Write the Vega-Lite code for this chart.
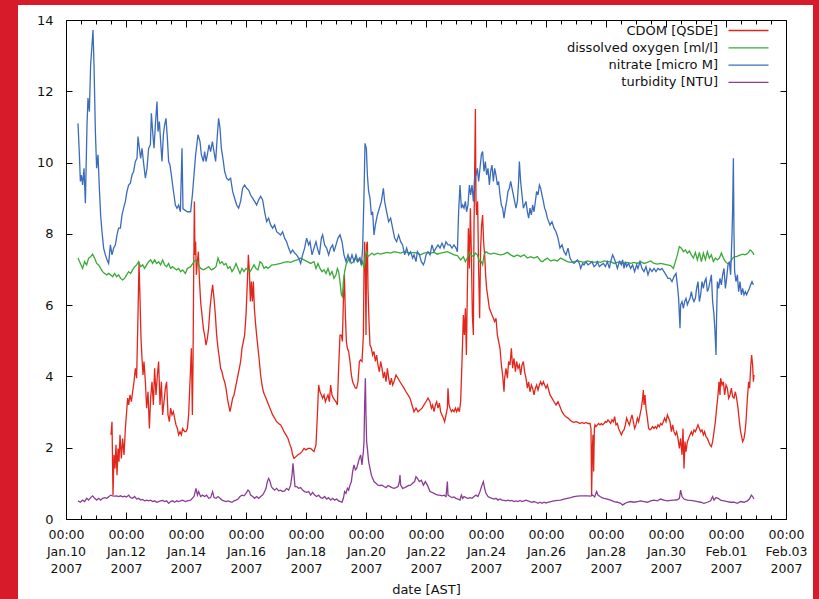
{
"$schema": "https://vega.github.io/schema/vega-lite/v6.json",
"background": "white",
"padding": 0,
"config": {"view": {"stroke": null}, "font": "DejaVu Sans", "line": {"strokeWidth": 1.3}},
"datasets": {
"nitrate": [
{"h":9.6,"v":11.10},{"h":10.7,"v":10.22},{"h":11.5,"v":9.47},{"h":12.3,"v":9.65},{"h":13.3,"v":9.37},{"h":14.4,"v":9.84},{"h":15.5,"v":8.86},{"h":16.8,"v":11.06},{"h":17.6,"v":11.81},{"h":18.7,"v":11.43},{"h":19.7,"v":12.74},{"h":20.8,"v":13.30},{"h":21.6,"v":13.72},{"h":22.4,"v":12.74},{"h":23.5,"v":10.87},{"h":24.5,"v":9.84},{"h":25.6,"v":10.22},{"h":26.7,"v":9.28},{"h":27.7,"v":8.53},{"h":28.8,"v":8.06},{"h":30.1,"v":7.60},{"h":31.5,"v":7.41},{"h":32.8,"v":7.27},{"h":34.1,"v":7.17},{"h":35.5,"v":7.69},{"h":36.8,"v":7.41},{"h":38.1,"v":7.60},{"h":39.5,"v":7.69},{"h":40.8,"v":7.97},{"h":42.1,"v":8.16},{"h":43.5,"v":8.16},{"h":44.8,"v":8.53},{"h":46.1,"v":8.72},{"h":47.5,"v":8.91},{"h":48.8,"v":9.19},{"h":50.1,"v":9.37},{"h":51.5,"v":9.42},{"h":52.8,"v":9.65},{"h":54.1,"v":9.75},{"h":55.5,"v":10.03},{"h":56.8,"v":10.12},{"h":57.6,"v":10.73},{"h":58.7,"v":10.40},{"h":59.7,"v":10.12},{"h":60.8,"v":10.40},{"h":62.1,"v":9.98},{"h":63.5,"v":9.56},{"h":64.8,"v":9.84},{"h":66.1,"v":10.40},{"h":67.5,"v":10.50},{"h":68.3,"v":11.38},{"h":69.3,"v":10.87},{"h":70.4,"v":10.40},{"h":71.5,"v":11.06},{"h":72.8,"v":11.71},{"h":73.6,"v":10.87},{"h":74.7,"v":11.15},{"h":75.7,"v":10.59},{"h":76.8,"v":10.03},{"h":77.9,"v":10.78},{"h":78.9,"v":11.06},{"h":80.0,"v":11.24},{"h":81.1,"v":10.68},{"h":82.1,"v":10.03},{"h":83.2,"v":9.93},{"h":84.3,"v":9.65},{"h":85.3,"v":9.37},{"h":86.4,"v":9.09},{"h":87.5,"v":8.81},{"h":88.8,"v":8.72},{"h":90.1,"v":8.81},{"h":91.5,"v":8.62},{"h":92.8,"v":10.40},{"h":93.6,"v":8.70},{"h":97.1,"v":8.62},{"h":99.7,"v":8.62},{"h":101.1,"v":9.09},{"h":103.7,"v":10.22},{"h":105.6,"v":10.78},{"h":107.2,"v":10.59},{"h":108.3,"v":10.22},{"h":109.9,"v":10.03},{"h":110.9,"v":10.31},{"h":112.0,"v":10.03},{"h":113.1,"v":10.22},{"h":114.4,"v":10.50},{"h":115.7,"v":10.31},{"h":117.1,"v":10.59},{"h":118.4,"v":10.31},{"h":119.7,"v":10.03},{"h":121.1,"v":10.78},{"h":122.1,"v":11.24},{"h":123.2,"v":10.96},{"h":124.3,"v":10.40},{"h":125.9,"v":10.03},{"h":126.9,"v":9.75},{"h":128.5,"v":9.56},{"h":130.1,"v":9.51},{"h":131.7,"v":9.56},{"h":133.3,"v":9.19},{"h":134.9,"v":9.00},{"h":136.5,"v":8.81},{"h":138.1,"v":8.72},{"h":139.7,"v":8.91},{"h":141.3,"v":9.28},{"h":142.9,"v":9.37},{"h":144.5,"v":9.28},{"h":146.1,"v":9.23},{"h":147.7,"v":9.09},{"h":149.3,"v":9.00},{"h":150.9,"v":8.91},{"h":152.5,"v":8.81},{"h":154.1,"v":8.95},{"h":155.7,"v":9.05},{"h":157.3,"v":8.95},{"h":158.9,"v":8.62},{"h":160.5,"v":8.34},{"h":162.1,"v":8.44},{"h":163.7,"v":8.25},{"h":165.3,"v":8.16},{"h":166.9,"v":8.25},{"h":168.5,"v":8.06},{"h":170.1,"v":8.02},{"h":171.7,"v":7.97},{"h":173.3,"v":8.06},{"h":174.9,"v":7.88},{"h":176.5,"v":7.78},{"h":178.1,"v":7.60},{"h":179.7,"v":7.46},{"h":181.3,"v":7.55},{"h":182.9,"v":7.46},{"h":184.5,"v":7.41},{"h":186.1,"v":7.32},{"h":187.7,"v":7.17},{"h":189.3,"v":7.41},{"h":190.9,"v":7.60},{"h":192.5,"v":7.88},{"h":194.1,"v":7.69},{"h":195.2,"v":7.78},{"h":196.8,"v":7.41},{"h":198.4,"v":7.60},{"h":200.0,"v":7.78},{"h":201.1,"v":7.60},{"h":202.7,"v":7.41},{"h":204.3,"v":7.88},{"h":205.3,"v":7.97},{"h":206.9,"v":7.69},{"h":208.5,"v":7.60},{"h":210.1,"v":7.41},{"h":211.7,"v":7.60},{"h":213.3,"v":7.69},{"h":214.4,"v":7.50},{"h":216.0,"v":7.69},{"h":217.6,"v":7.88},{"h":219.2,"v":7.97},{"h":220.8,"v":7.78},{"h":222.4,"v":7.41},{"h":224.0,"v":7.22},{"h":225.6,"v":7.41},{"h":227.2,"v":7.22},{"h":228.8,"v":7.41},{"h":230.4,"v":7.22},{"h":232.0,"v":7.41},{"h":233.6,"v":7.22},{"h":235.2,"v":7.32},{"h":236.3,"v":7.13},{"h":237.3,"v":7.60},{"h":238.4,"v":9.09},{"h":239.2,"v":10.54},{"h":240.3,"v":10.40},{"h":241.1,"v":9.65},{"h":242.1,"v":9.19},{"h":243.2,"v":9.00},{"h":244.3,"v":8.53},{"h":245.3,"v":8.62},{"h":246.4,"v":7.97},{"h":247.5,"v":8.25},{"h":249.1,"v":8.53},{"h":250.7,"v":8.72},{"h":252.3,"v":8.91},{"h":253.9,"v":9.28},{"h":254.9,"v":8.91},{"h":256.5,"v":8.62},{"h":258.1,"v":8.34},{"h":259.7,"v":8.44},{"h":261.3,"v":8.16},{"h":262.9,"v":7.88},{"h":264.5,"v":7.78},{"h":266.1,"v":7.97},{"h":267.7,"v":7.78},{"h":269.3,"v":7.69},{"h":270.9,"v":7.41},{"h":272.5,"v":7.60},{"h":274.1,"v":7.41},{"h":275.7,"v":7.50},{"h":277.3,"v":7.32},{"h":278.4,"v":7.41},{"h":280.0,"v":7.22},{"h":281.1,"v":7.50},{"h":282.7,"v":7.41},{"h":284.3,"v":7.22},{"h":285.9,"v":7.13},{"h":286.9,"v":7.22},{"h":288.0,"v":7.41},{"h":289.6,"v":7.50},{"h":291.2,"v":7.41},{"h":292.8,"v":7.69},{"h":294.4,"v":7.50},{"h":296.0,"v":7.60},{"h":297.6,"v":7.69},{"h":299.2,"v":7.60},{"h":300.8,"v":7.74},{"h":302.4,"v":7.60},{"h":304.0,"v":7.78},{"h":305.6,"v":7.69},{"h":307.2,"v":7.69},{"h":308.8,"v":7.60},{"h":310.4,"v":7.69},{"h":312.0,"v":7.60},{"h":313.1,"v":7.50},{"h":314.1,"v":8.62},{"h":315.2,"v":9.37},{"h":316.3,"v":8.72},{"h":317.3,"v":8.81},{"h":318.4,"v":8.72},{"h":319.5,"v":8.91},{"h":320.5,"v":8.62},{"h":321.6,"v":8.81},{"h":322.7,"v":9.37},{"h":323.7,"v":9.09},{"h":324.8,"v":9.37},{"h":325.9,"v":8.91},{"h":326.9,"v":9.56},{"h":328.0,"v":9.65},{"h":329.1,"v":9.84},{"h":330.1,"v":9.47},{"h":331.2,"v":9.84},{"h":332.3,"v":10.22},{"h":333.3,"v":10.31},{"h":334.4,"v":9.75},{"h":335.5,"v":10.03},{"h":336.5,"v":9.65},{"h":337.6,"v":9.84},{"h":338.7,"v":9.37},{"h":339.7,"v":9.75},{"h":340.8,"v":9.93},{"h":341.9,"v":9.47},{"h":342.9,"v":9.84},{"h":344.0,"v":9.65},{"h":345.1,"v":9.37},{"h":346.1,"v":9.47},{"h":347.2,"v":9.09},{"h":348.3,"v":8.81},{"h":349.3,"v":8.72},{"h":350.4,"v":8.44},{"h":351.5,"v":8.72},{"h":352.5,"v":8.91},{"h":353.6,"v":9.19},{"h":354.7,"v":9.28},{"h":355.7,"v":9.47},{"h":356.8,"v":9.28},{"h":357.9,"v":9.09},{"h":358.9,"v":8.91},{"h":360.0,"v":8.72},{"h":361.1,"v":8.91},{"h":362.1,"v":9.47},{"h":362.7,"v":10.03},{"h":363.7,"v":9.47},{"h":364.8,"v":9.09},{"h":365.9,"v":8.72},{"h":366.9,"v":8.81},{"h":368.0,"v":8.91},{"h":369.1,"v":8.62},{"h":370.1,"v":8.44},{"h":371.2,"v":8.72},{"h":372.3,"v":8.53},{"h":373.3,"v":8.81},{"h":374.4,"v":8.62},{"h":375.5,"v":8.91},{"h":376.5,"v":9.19},{"h":377.6,"v":9.09},{"h":378.7,"v":9.37},{"h":379.7,"v":9.28},{"h":380.8,"v":9.09},{"h":381.9,"v":8.91},{"h":382.9,"v":8.72},{"h":384.0,"v":8.62},{"h":385.1,"v":8.44},{"h":387.2,"v":8.25},{"h":388.8,"v":8.34},{"h":390.4,"v":8.16},{"h":392.0,"v":8.06},{"h":393.6,"v":7.88},{"h":395.2,"v":7.60},{"h":396.8,"v":7.69},{"h":398.4,"v":7.50},{"h":400.0,"v":7.41},{"h":401.6,"v":7.60},{"h":403.2,"v":7.32},{"h":404.8,"v":7.22},{"h":406.4,"v":7.17},{"h":408.0,"v":7.22},{"h":409.1,"v":7.27},{"h":410.7,"v":7.17},{"h":411.7,"v":7.03},{"h":413.3,"v":7.17},{"h":414.4,"v":7.13},{"h":416.0,"v":7.22},{"h":417.6,"v":7.13},{"h":419.2,"v":7.17},{"h":420.8,"v":7.22},{"h":422.4,"v":7.08},{"h":424.0,"v":7.13},{"h":425.1,"v":7.22},{"h":426.7,"v":7.08},{"h":428.3,"v":7.13},{"h":429.9,"v":7.17},{"h":431.5,"v":7.08},{"h":433.1,"v":7.22},{"h":434.7,"v":7.03},{"h":435.7,"v":7.22},{"h":437.3,"v":7.41},{"h":438.4,"v":7.32},{"h":439.5,"v":7.22},{"h":441.1,"v":7.03},{"h":442.7,"v":7.22},{"h":444.3,"v":7.13},{"h":445.3,"v":7.27},{"h":446.4,"v":7.03},{"h":447.5,"v":7.22},{"h":448.5,"v":7.08},{"h":450.1,"v":7.17},{"h":451.7,"v":7.03},{"h":453.3,"v":7.13},{"h":454.9,"v":6.94},{"h":456.5,"v":7.13},{"h":457.6,"v":7.03},{"h":459.2,"v":7.22},{"h":460.8,"v":7.03},{"h":462.4,"v":6.94},{"h":464.0,"v":7.08},{"h":465.6,"v":6.85},{"h":467.2,"v":7.03},{"h":468.8,"v":6.94},{"h":470.4,"v":7.03},{"h":472.0,"v":6.94},{"h":473.6,"v":7.03},{"h":475.2,"v":6.99},{"h":476.8,"v":7.03},{"h":478.4,"v":6.94},{"h":480.0,"v":6.85},{"h":481.6,"v":6.75},{"h":483.2,"v":6.75},{"h":484.8,"v":6.66},{"h":486.4,"v":6.80},{"h":488.0,"v":6.89},{"h":489.1,"v":6.57},{"h":490.1,"v":6.19},{"h":491.2,"v":5.35},{"h":491.7,"v":6.01},{"h":492.8,"v":6.10},{"h":493.9,"v":5.91},{"h":494.9,"v":6.10},{"h":496.0,"v":6.19},{"h":497.1,"v":6.01},{"h":498.1,"v":6.10},{"h":499.2,"v":6.19},{"h":500.3,"v":6.38},{"h":501.3,"v":6.19},{"h":502.4,"v":6.10},{"h":503.5,"v":6.19},{"h":504.5,"v":6.47},{"h":505.6,"v":6.66},{"h":506.7,"v":6.10},{"h":507.7,"v":6.29},{"h":508.8,"v":6.66},{"h":509.9,"v":6.47},{"h":510.9,"v":6.66},{"h":512.0,"v":6.75},{"h":513.1,"v":6.38},{"h":514.1,"v":6.47},{"h":515.2,"v":6.66},{"h":516.3,"v":6.85},{"h":517.3,"v":6.10},{"h":518.4,"v":5.72},{"h":519.2,"v":5.26},{"h":520.0,"v":4.60},{"h":520.5,"v":5.72},{"h":521.1,"v":6.66},{"h":522.1,"v":6.47},{"h":523.2,"v":6.75},{"h":524.3,"v":6.57},{"h":525.3,"v":6.85},{"h":526.4,"v":7.03},{"h":527.5,"v":6.47},{"h":528.5,"v":6.75},{"h":529.6,"v":7.13},{"h":530.7,"v":7.22},{"h":531.7,"v":6.85},{"h":532.8,"v":7.97},{"h":533.3,"v":8.67},{"h":533.9,"v":10.12},{"h":534.4,"v":7.97},{"h":534.9,"v":6.94},{"h":536.0,"v":6.66},{"h":537.1,"v":6.85},{"h":538.1,"v":6.38},{"h":539.2,"v":6.66},{"h":540.3,"v":6.29},{"h":541.3,"v":6.47},{"h":542.4,"v":6.29},{"h":543.5,"v":6.38},{"h":544.5,"v":6.29},{"h":545.6,"v":6.38},{"h":546.7,"v":6.47},{"h":547.7,"v":6.57},{"h":548.8,"v":6.66},{"h":549.9,"v":6.57}
],
"oxygen": [
{"h":9.6,"v":7.32},{"h":11.5,"v":7.17},{"h":13.3,"v":7.03},{"h":14.9,"v":7.22},{"h":16.5,"v":7.13},{"h":18.1,"v":7.32},{"h":19.7,"v":7.36},{"h":21.3,"v":7.43},{"h":22.9,"v":7.32},{"h":24.5,"v":7.17},{"h":26.1,"v":7.13},{"h":27.7,"v":7.03},{"h":29.3,"v":6.94},{"h":30.9,"v":6.89},{"h":32.5,"v":6.85},{"h":34.1,"v":6.89},{"h":35.7,"v":6.85},{"h":37.3,"v":6.80},{"h":38.9,"v":6.89},{"h":40.5,"v":6.80},{"h":42.1,"v":6.85},{"h":43.7,"v":6.75},{"h":45.3,"v":6.71},{"h":46.9,"v":6.75},{"h":48.5,"v":6.85},{"h":50.1,"v":6.94},{"h":51.7,"v":6.89},{"h":53.3,"v":6.99},{"h":54.9,"v":7.08},{"h":56.5,"v":7.13},{"h":58.1,"v":7.22},{"h":59.7,"v":7.08},{"h":61.3,"v":7.13},{"h":62.9,"v":7.03},{"h":64.5,"v":7.13},{"h":66.1,"v":7.22},{"h":67.7,"v":7.27},{"h":69.3,"v":7.17},{"h":70.9,"v":7.27},{"h":72.5,"v":7.17},{"h":74.1,"v":7.22},{"h":75.7,"v":7.13},{"h":77.3,"v":7.27},{"h":78.9,"v":7.13},{"h":80.5,"v":7.08},{"h":82.1,"v":7.17},{"h":83.7,"v":7.03},{"h":85.3,"v":7.08},{"h":86.9,"v":7.03},{"h":88.5,"v":6.99},{"h":90.1,"v":7.03},{"h":91.7,"v":6.94},{"h":93.3,"v":6.99},{"h":95.5,"v":6.89},{"h":97.1,"v":7.03},{"h":99.7,"v":7.08},{"h":102.4,"v":7.22},{"h":104.0,"v":7.27},{"h":105.6,"v":7.17},{"h":107.7,"v":7.03},{"h":109.9,"v":6.99},{"h":112.0,"v":7.03},{"h":114.1,"v":7.08},{"h":116.3,"v":6.99},{"h":118.4,"v":7.03},{"h":120.0,"v":7.08},{"h":121.6,"v":7.32},{"h":123.2,"v":7.17},{"h":124.8,"v":7.22},{"h":126.4,"v":7.13},{"h":128.0,"v":7.17},{"h":129.6,"v":7.03},{"h":131.2,"v":7.08},{"h":132.8,"v":6.94},{"h":134.4,"v":7.03},{"h":136.0,"v":7.17},{"h":137.6,"v":7.03},{"h":139.2,"v":6.89},{"h":140.8,"v":7.03},{"h":142.4,"v":6.94},{"h":144.0,"v":7.03},{"h":145.6,"v":6.99},{"h":147.2,"v":6.94},{"h":148.8,"v":7.03},{"h":150.4,"v":7.13},{"h":152.0,"v":7.03},{"h":153.6,"v":6.99},{"h":155.2,"v":7.22},{"h":156.8,"v":7.17},{"h":158.4,"v":7.03},{"h":160.0,"v":7.08},{"h":161.6,"v":7.03},{"h":163.2,"v":7.08},{"h":164.8,"v":7.13},{"h":166.4,"v":7.13},{"h":169.1,"v":7.15},{"h":171.7,"v":7.17},{"h":174.4,"v":7.20},{"h":177.1,"v":7.22},{"h":179.7,"v":7.20},{"h":182.4,"v":7.24},{"h":185.1,"v":7.27},{"h":187.7,"v":7.32},{"h":190.4,"v":7.27},{"h":193.1,"v":7.22},{"h":195.7,"v":7.17},{"h":198.4,"v":7.22},{"h":200.0,"v":7.03},{"h":201.6,"v":7.17},{"h":203.2,"v":7.03},{"h":204.8,"v":6.94},{"h":206.4,"v":6.99},{"h":208.0,"v":6.89},{"h":209.6,"v":7.03},{"h":211.2,"v":6.85},{"h":212.8,"v":6.94},{"h":214.4,"v":6.75},{"h":216.0,"v":6.85},{"h":217.1,"v":7.03},{"h":218.1,"v":6.94},{"h":219.2,"v":6.66},{"h":220.3,"v":6.29},{"h":221.1,"v":6.24},{"h":221.9,"v":6.66},{"h":222.9,"v":6.94},{"h":224.0,"v":7.13},{"h":225.1,"v":7.22},{"h":226.7,"v":7.32},{"h":228.3,"v":7.17},{"h":229.9,"v":7.22},{"h":231.5,"v":7.32},{"h":233.1,"v":7.22},{"h":234.7,"v":7.32},{"h":236.3,"v":7.13},{"h":237.3,"v":7.22},{"h":238.4,"v":7.03},{"h":239.5,"v":7.41},{"h":240.5,"v":7.50},{"h":241.6,"v":7.36},{"h":243.2,"v":7.41},{"h":244.8,"v":7.46},{"h":246.4,"v":7.41},{"h":249.1,"v":7.46},{"h":251.7,"v":7.43},{"h":254.4,"v":7.46},{"h":257.1,"v":7.48},{"h":259.7,"v":7.46},{"h":262.4,"v":7.50},{"h":265.1,"v":7.48},{"h":267.7,"v":7.46},{"h":270.4,"v":7.50},{"h":273.1,"v":7.48},{"h":275.7,"v":7.46},{"h":278.4,"v":7.48},{"h":281.1,"v":7.46},{"h":283.7,"v":7.41},{"h":286.4,"v":7.46},{"h":289.1,"v":7.48},{"h":291.7,"v":7.46},{"h":294.4,"v":7.48},{"h":297.1,"v":7.43},{"h":299.7,"v":7.46},{"h":302.4,"v":7.48},{"h":305.1,"v":7.50},{"h":307.7,"v":7.46},{"h":310.4,"v":7.41},{"h":313.1,"v":7.39},{"h":315.7,"v":7.27},{"h":317.9,"v":7.36},{"h":319.5,"v":7.22},{"h":321.1,"v":7.32},{"h":322.7,"v":7.48},{"h":324.3,"v":7.41},{"h":325.9,"v":7.36},{"h":327.5,"v":7.46},{"h":329.1,"v":7.41},{"h":330.7,"v":7.22},{"h":332.3,"v":7.22},{"h":333.3,"v":7.13},{"h":334.4,"v":7.41},{"h":336.0,"v":7.50},{"h":337.6,"v":7.46},{"h":339.7,"v":7.43},{"h":342.4,"v":7.46},{"h":345.1,"v":7.43},{"h":347.7,"v":7.41},{"h":350.4,"v":7.43},{"h":353.1,"v":7.48},{"h":355.7,"v":7.41},{"h":358.4,"v":7.36},{"h":361.1,"v":7.41},{"h":363.7,"v":7.36},{"h":366.4,"v":7.41},{"h":369.1,"v":7.32},{"h":371.7,"v":7.36},{"h":374.4,"v":7.32},{"h":377.1,"v":7.36},{"h":379.7,"v":7.24},{"h":381.3,"v":7.22},{"h":382.9,"v":7.27},{"h":385.1,"v":7.32},{"h":387.7,"v":7.24},{"h":390.4,"v":7.27},{"h":393.1,"v":7.24},{"h":395.7,"v":7.32},{"h":398.4,"v":7.27},{"h":401.1,"v":7.22},{"h":403.7,"v":7.20},{"h":406.4,"v":7.22},{"h":409.1,"v":7.24},{"h":411.7,"v":7.22},{"h":414.4,"v":7.20},{"h":417.1,"v":7.24},{"h":419.7,"v":7.22},{"h":422.4,"v":7.20},{"h":425.1,"v":7.22},{"h":427.7,"v":7.20},{"h":430.4,"v":7.24},{"h":433.1,"v":7.22},{"h":435.7,"v":7.22},{"h":438.4,"v":7.17},{"h":441.1,"v":7.20},{"h":443.7,"v":7.22},{"h":446.4,"v":7.17},{"h":449.1,"v":7.20},{"h":451.7,"v":7.17},{"h":454.4,"v":7.20},{"h":457.1,"v":7.17},{"h":459.7,"v":7.22},{"h":462.4,"v":7.17},{"h":465.1,"v":7.20},{"h":467.7,"v":7.24},{"h":470.4,"v":7.17},{"h":473.1,"v":7.15},{"h":475.7,"v":7.17},{"h":478.4,"v":7.15},{"h":481.1,"v":7.13},{"h":483.7,"v":7.11},{"h":485.9,"v":7.03},{"h":487.5,"v":7.22},{"h":489.1,"v":7.41},{"h":490.7,"v":7.64},{"h":492.3,"v":7.60},{"h":493.9,"v":7.50},{"h":495.5,"v":7.55},{"h":497.1,"v":7.46},{"h":498.7,"v":7.52},{"h":500.3,"v":7.41},{"h":501.9,"v":7.32},{"h":503.5,"v":7.48},{"h":505.1,"v":7.27},{"h":506.7,"v":7.48},{"h":508.3,"v":7.22},{"h":509.9,"v":7.46},{"h":511.5,"v":7.27},{"h":513.1,"v":7.50},{"h":514.7,"v":7.32},{"h":516.3,"v":7.41},{"h":517.9,"v":7.22},{"h":519.5,"v":7.32},{"h":521.1,"v":7.27},{"h":522.7,"v":7.32},{"h":524.3,"v":7.46},{"h":525.9,"v":7.32},{"h":527.5,"v":7.22},{"h":529.1,"v":7.17},{"h":530.7,"v":7.17},{"h":531.7,"v":7.22},{"h":533.3,"v":7.32},{"h":534.9,"v":7.36},{"h":536.5,"v":7.36},{"h":538.1,"v":7.39},{"h":539.7,"v":7.41},{"h":541.3,"v":7.43},{"h":542.9,"v":7.41},{"h":544.5,"v":7.43},{"h":546.1,"v":7.48},{"h":547.2,"v":7.55},{"h":548.3,"v":7.52},{"h":549.3,"v":7.48},{"h":550.4,"v":7.41}
],
"cdom": [
{"h":36.0,"v":2.36},{"h":36.8,"v":2.73},{"h":37.6,"v":0.67},{"h":38.4,"v":1.80},{"h":39.2,"v":1.42},{"h":40.0,"v":2.08},{"h":40.8,"v":1.23},{"h":41.6,"v":1.98},{"h":42.4,"v":1.61},{"h":43.2,"v":2.36},{"h":44.3,"v":1.70},{"h":45.3,"v":2.26},{"h":46.4,"v":1.80},{"h":47.5,"v":2.54},{"h":48.5,"v":3.01},{"h":49.3,"v":3.39},{"h":50.1,"v":3.20},{"h":51.2,"v":3.48},{"h":52.3,"v":3.29},{"h":53.3,"v":3.57},{"h":54.4,"v":3.85},{"h":55.5,"v":4.23},{"h":56.5,"v":3.95},{"h":57.6,"v":5.72},{"h":58.4,"v":7.22},{"h":59.2,"v":6.19},{"h":60.0,"v":5.07},{"h":60.8,"v":4.51},{"h":61.6,"v":4.04},{"h":62.4,"v":4.42},{"h":63.5,"v":3.85},{"h":64.5,"v":3.11},{"h":65.6,"v":3.57},{"h":66.7,"v":2.54},{"h":67.7,"v":3.39},{"h":68.8,"v":3.85},{"h":69.9,"v":3.20},{"h":70.9,"v":4.23},{"h":72.0,"v":3.48},{"h":73.1,"v":4.04},{"h":74.1,"v":4.42},{"h":75.2,"v":3.20},{"h":76.3,"v":3.85},{"h":77.3,"v":2.92},{"h":78.4,"v":3.29},{"h":79.5,"v":3.67},{"h":80.5,"v":3.85},{"h":81.6,"v":2.92},{"h":82.7,"v":2.73},{"h":83.7,"v":3.11},{"h":84.8,"v":2.92},{"h":85.9,"v":3.01},{"h":86.9,"v":2.83},{"h":88.0,"v":2.64},{"h":89.1,"v":2.54},{"h":90.1,"v":2.36},{"h":91.2,"v":2.45},{"h":92.3,"v":2.36},{"h":93.3,"v":2.54},{"h":94.9,"v":2.45},{"h":96.0,"v":2.45},{"h":97.1,"v":2.54},{"h":98.1,"v":2.92},{"h":99.2,"v":3.85},{"h":100.3,"v":4.79},{"h":101.1,"v":2.92},{"h":101.6,"v":4.32},{"h":102.1,"v":6.66},{"h":102.7,"v":8.91},{"h":103.2,"v":7.41},{"h":103.7,"v":7.78},{"h":104.3,"v":6.85},{"h":105.1,"v":7.22},{"h":105.9,"v":7.50},{"h":106.7,"v":6.75},{"h":107.7,"v":6.10},{"h":108.8,"v":5.72},{"h":109.9,"v":5.35},{"h":110.9,"v":5.16},{"h":112.0,"v":4.88},{"h":113.1,"v":5.07},{"h":114.1,"v":5.35},{"h":115.2,"v":5.91},{"h":116.3,"v":6.29},{"h":117.3,"v":6.57},{"h":118.4,"v":6.19},{"h":119.5,"v":5.72},{"h":120.5,"v":5.16},{"h":121.6,"v":4.79},{"h":122.7,"v":4.51},{"h":123.7,"v":4.23},{"h":124.8,"v":4.13},{"h":125.9,"v":3.95},{"h":126.9,"v":3.85},{"h":128.0,"v":3.67},{"h":129.1,"v":3.39},{"h":130.1,"v":3.20},{"h":131.2,"v":3.01},{"h":132.3,"v":3.20},{"h":133.3,"v":3.39},{"h":134.4,"v":3.48},{"h":135.5,"v":3.67},{"h":136.5,"v":3.85},{"h":137.6,"v":4.04},{"h":138.7,"v":4.23},{"h":139.7,"v":4.42},{"h":140.8,"v":4.79},{"h":141.9,"v":4.98},{"h":142.9,"v":5.16},{"h":144.0,"v":5.72},{"h":145.1,"v":6.66},{"h":145.9,"v":7.41},{"h":146.7,"v":6.94},{"h":147.5,"v":6.10},{"h":148.3,"v":6.66},{"h":149.1,"v":6.10},{"h":149.9,"v":6.66},{"h":150.7,"v":5.91},{"h":151.5,"v":5.54},{"h":152.5,"v":5.16},{"h":153.6,"v":4.79},{"h":154.7,"v":4.42},{"h":155.7,"v":4.04},{"h":156.8,"v":3.76},{"h":157.9,"v":3.57},{"h":158.9,"v":3.48},{"h":160.0,"v":3.39},{"h":161.1,"v":3.29},{"h":162.1,"v":3.20},{"h":163.2,"v":3.11},{"h":164.3,"v":3.01},{"h":165.3,"v":2.92},{"h":166.9,"v":2.83},{"h":168.5,"v":2.73},{"h":170.1,"v":2.68},{"h":171.7,"v":2.64},{"h":173.3,"v":2.54},{"h":174.4,"v":2.45},{"h":176.0,"v":2.36},{"h":177.6,"v":2.26},{"h":179.2,"v":2.08},{"h":180.3,"v":1.98},{"h":181.3,"v":1.80},{"h":182.4,"v":1.70},{"h":184.0,"v":1.75},{"h":185.6,"v":1.80},{"h":187.2,"v":1.84},{"h":188.8,"v":1.89},{"h":190.4,"v":1.98},{"h":192.0,"v":1.94},{"h":193.6,"v":1.98},{"h":195.7,"v":1.98},{"h":198.4,"v":1.89},{"h":200.0,"v":2.08},{"h":201.1,"v":2.92},{"h":202.1,"v":3.76},{"h":203.2,"v":3.57},{"h":204.3,"v":3.48},{"h":205.3,"v":3.39},{"h":206.4,"v":3.48},{"h":207.5,"v":3.29},{"h":208.5,"v":3.39},{"h":209.6,"v":3.48},{"h":210.7,"v":3.29},{"h":211.7,"v":3.76},{"h":212.8,"v":3.48},{"h":213.9,"v":3.39},{"h":214.9,"v":3.34},{"h":216.0,"v":3.29},{"h":217.1,"v":3.20},{"h":218.1,"v":4.23},{"h":219.2,"v":5.16},{"h":220.3,"v":5.16},{"h":221.1,"v":4.98},{"h":221.9,"v":6.10},{"h":222.7,"v":6.85},{"h":223.5,"v":5.72},{"h":224.3,"v":4.98},{"h":225.1,"v":4.79},{"h":226.1,"v":4.70},{"h":227.2,"v":4.42},{"h":228.3,"v":4.04},{"h":229.3,"v":3.85},{"h":230.4,"v":3.76},{"h":231.5,"v":3.67},{"h":232.5,"v":3.67},{"h":233.6,"v":3.85},{"h":234.7,"v":4.42},{"h":235.7,"v":4.46},{"h":236.8,"v":4.42},{"h":237.9,"v":5.16},{"h":238.4,"v":7.03},{"h":238.9,"v":7.78},{"h":239.5,"v":6.85},{"h":240.0,"v":5.16},{"h":240.5,"v":7.69},{"h":241.1,"v":7.78},{"h":241.6,"v":6.47},{"h":242.4,"v":5.54},{"h":243.2,"v":4.88},{"h":244.3,"v":4.79},{"h":245.3,"v":4.60},{"h":246.4,"v":4.70},{"h":247.5,"v":4.42},{"h":248.5,"v":4.60},{"h":249.6,"v":4.32},{"h":250.7,"v":4.13},{"h":251.7,"v":4.42},{"h":252.8,"v":4.23},{"h":253.9,"v":3.95},{"h":254.9,"v":4.13},{"h":256.0,"v":3.85},{"h":257.1,"v":4.23},{"h":258.1,"v":3.95},{"h":259.2,"v":3.76},{"h":260.3,"v":3.95},{"h":261.3,"v":3.76},{"h":262.4,"v":3.85},{"h":264.0,"v":4.04},{"h":265.6,"v":3.95},{"h":267.2,"v":3.85},{"h":268.8,"v":3.76},{"h":270.4,"v":3.67},{"h":272.0,"v":3.57},{"h":273.6,"v":3.48},{"h":275.2,"v":3.39},{"h":276.8,"v":3.20},{"h":278.4,"v":3.01},{"h":280.0,"v":3.11},{"h":281.6,"v":3.01},{"h":283.2,"v":3.06},{"h":284.8,"v":3.11},{"h":286.4,"v":3.20},{"h":288.0,"v":3.29},{"h":289.6,"v":3.39},{"h":291.2,"v":3.29},{"h":292.3,"v":3.11},{"h":293.3,"v":3.20},{"h":294.4,"v":3.01},{"h":295.5,"v":3.20},{"h":296.5,"v":3.29},{"h":297.6,"v":3.11},{"h":298.7,"v":3.25},{"h":299.7,"v":3.01},{"h":300.8,"v":2.92},{"h":301.9,"v":2.83},{"h":302.9,"v":2.73},{"h":304.0,"v":2.92},{"h":305.1,"v":3.11},{"h":305.6,"v":3.67},{"h":306.4,"v":3.20},{"h":307.2,"v":3.11},{"h":308.3,"v":3.01},{"h":309.3,"v":3.06},{"h":310.4,"v":3.01},{"h":311.5,"v":3.11},{"h":312.5,"v":3.01},{"h":313.6,"v":3.11},{"h":314.7,"v":3.01},{"h":315.7,"v":3.29},{"h":316.8,"v":4.42},{"h":317.9,"v":5.72},{"h":318.7,"v":5.16},{"h":319.5,"v":5.91},{"h":320.3,"v":4.60},{"h":321.1,"v":6.47},{"h":321.9,"v":8.16},{"h":322.7,"v":7.03},{"h":323.5,"v":8.72},{"h":324.3,"v":7.41},{"h":325.1,"v":5.72},{"h":325.9,"v":5.16},{"h":326.4,"v":8.16},{"h":326.9,"v":9.65},{"h":327.5,"v":11.50},{"h":328.0,"v":8.91},{"h":328.5,"v":8.53},{"h":329.3,"v":8.91},{"h":330.1,"v":7.03},{"h":330.9,"v":5.63},{"h":331.7,"v":7.60},{"h":332.5,"v":8.25},{"h":333.3,"v":8.53},{"h":334.1,"v":7.78},{"h":334.9,"v":7.41},{"h":335.7,"v":6.85},{"h":336.5,"v":6.47},{"h":337.6,"v":6.19},{"h":338.7,"v":5.91},{"h":339.7,"v":5.82},{"h":340.8,"v":5.72},{"h":341.9,"v":5.63},{"h":342.9,"v":5.54},{"h":344.0,"v":5.63},{"h":345.1,"v":5.16},{"h":346.1,"v":4.98},{"h":347.2,"v":4.79},{"h":348.3,"v":4.32},{"h":349.3,"v":4.04},{"h":350.4,"v":3.57},{"h":350.9,"v":3.95},{"h":352.0,"v":4.23},{"h":353.1,"v":3.95},{"h":354.1,"v":4.42},{"h":355.2,"v":4.32},{"h":356.3,"v":4.79},{"h":357.3,"v":4.23},{"h":358.4,"v":4.51},{"h":359.5,"v":4.13},{"h":360.5,"v":4.42},{"h":361.6,"v":4.23},{"h":362.7,"v":4.32},{"h":363.7,"v":4.04},{"h":364.8,"v":4.32},{"h":365.9,"v":4.42},{"h":366.9,"v":4.13},{"h":368.0,"v":3.95},{"h":369.1,"v":3.67},{"h":370.1,"v":3.85},{"h":371.2,"v":3.57},{"h":372.3,"v":3.76},{"h":373.3,"v":3.67},{"h":374.4,"v":3.48},{"h":375.5,"v":3.67},{"h":376.5,"v":3.76},{"h":377.6,"v":3.62},{"h":378.7,"v":3.76},{"h":379.7,"v":3.85},{"h":380.8,"v":3.76},{"h":381.9,"v":3.85},{"h":382.9,"v":3.76},{"h":384.0,"v":3.67},{"h":385.1,"v":3.76},{"h":387.2,"v":3.48},{"h":388.8,"v":3.39},{"h":390.4,"v":3.29},{"h":392.0,"v":3.20},{"h":393.6,"v":3.29},{"h":395.2,"v":3.15},{"h":396.8,"v":3.01},{"h":398.4,"v":2.92},{"h":400.0,"v":2.87},{"h":401.6,"v":2.83},{"h":403.2,"v":2.78},{"h":404.8,"v":2.73},{"h":406.4,"v":2.71},{"h":408.0,"v":2.73},{"h":409.6,"v":2.71},{"h":411.2,"v":2.68},{"h":412.8,"v":2.71},{"h":414.4,"v":2.68},{"h":416.0,"v":2.71},{"h":417.6,"v":2.68},{"h":419.2,"v":2.68},{"h":420.0,"v":2.54},{"h":420.5,"v":0.67},{"h":421.1,"v":1.98},{"h":421.6,"v":2.36},{"h":422.1,"v":1.33},{"h":422.7,"v":2.54},{"h":423.2,"v":2.64},{"h":424.0,"v":2.59},{"h":425.1,"v":2.64},{"h":426.1,"v":2.68},{"h":427.2,"v":2.64},{"h":428.3,"v":2.68},{"h":429.3,"v":2.64},{"h":430.4,"v":2.68},{"h":431.5,"v":2.73},{"h":432.5,"v":2.71},{"h":433.6,"v":2.78},{"h":434.7,"v":2.73},{"h":435.7,"v":2.68},{"h":436.8,"v":2.78},{"h":437.9,"v":2.73},{"h":438.9,"v":2.87},{"h":440.0,"v":2.64},{"h":441.1,"v":2.68},{"h":442.1,"v":2.54},{"h":443.2,"v":2.45},{"h":444.3,"v":2.36},{"h":445.3,"v":2.45},{"h":446.4,"v":2.50},{"h":447.5,"v":2.64},{"h":448.5,"v":2.83},{"h":449.6,"v":2.73},{"h":450.7,"v":2.64},{"h":451.7,"v":2.78},{"h":452.8,"v":2.92},{"h":453.9,"v":2.73},{"h":454.9,"v":2.54},{"h":456.0,"v":2.64},{"h":457.1,"v":2.83},{"h":458.1,"v":2.73},{"h":459.2,"v":2.92},{"h":460.3,"v":3.11},{"h":461.3,"v":3.39},{"h":461.9,"v":3.62},{"h":462.4,"v":3.20},{"h":463.2,"v":3.48},{"h":464.0,"v":3.11},{"h":465.1,"v":2.83},{"h":466.1,"v":2.54},{"h":467.2,"v":2.50},{"h":468.3,"v":2.54},{"h":469.3,"v":2.59},{"h":470.4,"v":2.54},{"h":471.5,"v":2.59},{"h":472.5,"v":2.54},{"h":473.6,"v":2.64},{"h":474.7,"v":2.59},{"h":475.7,"v":2.68},{"h":476.8,"v":2.64},{"h":477.9,"v":2.73},{"h":478.9,"v":2.83},{"h":480.0,"v":2.73},{"h":481.1,"v":2.92},{"h":483.2,"v":2.73},{"h":484.3,"v":2.45},{"h":485.3,"v":2.64},{"h":486.4,"v":2.45},{"h":487.5,"v":2.36},{"h":488.5,"v":2.45},{"h":489.6,"v":2.26},{"h":490.7,"v":1.98},{"h":491.7,"v":2.26},{"h":492.8,"v":1.80},{"h":493.6,"v":2.54},{"h":494.4,"v":1.42},{"h":495.2,"v":2.17},{"h":496.0,"v":1.89},{"h":497.1,"v":2.17},{"h":498.1,"v":2.26},{"h":499.2,"v":2.36},{"h":500.3,"v":2.45},{"h":501.3,"v":2.36},{"h":502.4,"v":2.50},{"h":503.5,"v":2.45},{"h":504.5,"v":2.54},{"h":505.6,"v":2.64},{"h":506.7,"v":2.54},{"h":507.7,"v":2.45},{"h":508.8,"v":2.50},{"h":509.9,"v":2.36},{"h":510.9,"v":2.45},{"h":512.0,"v":2.31},{"h":513.1,"v":2.26},{"h":514.1,"v":2.17},{"h":515.2,"v":2.08},{"h":516.3,"v":2.03},{"h":517.3,"v":2.17},{"h":518.4,"v":2.45},{"h":519.5,"v":2.73},{"h":520.5,"v":3.11},{"h":521.6,"v":3.48},{"h":522.4,"v":3.85},{"h":523.2,"v":3.48},{"h":523.7,"v":3.95},{"h":524.8,"v":3.76},{"h":525.9,"v":3.85},{"h":526.9,"v":3.48},{"h":528.0,"v":3.76},{"h":529.1,"v":3.67},{"h":530.1,"v":3.39},{"h":531.2,"v":3.48},{"h":532.3,"v":3.67},{"h":533.3,"v":3.43},{"h":534.4,"v":3.39},{"h":535.5,"v":3.57},{"h":536.5,"v":3.39},{"h":537.6,"v":3.11},{"h":538.7,"v":2.73},{"h":539.7,"v":2.45},{"h":540.8,"v":2.26},{"h":541.3,"v":2.17},{"h":542.4,"v":2.26},{"h":543.2,"v":2.45},{"h":544.0,"v":2.73},{"h":545.1,"v":3.39},{"h":546.1,"v":3.85},{"h":546.9,"v":3.67},{"h":547.7,"v":4.23},{"h":548.5,"v":4.60},{"h":549.3,"v":4.32},{"h":549.9,"v":3.85},{"h":550.4,"v":4.04}
],
"turbidity": [
{"h":9.6,"v":0.51},{"h":11.5,"v":0.47},{"h":13.3,"v":0.53},{"h":14.9,"v":0.49},{"h":16.5,"v":0.58},{"h":18.1,"v":0.53},{"h":19.7,"v":0.60},{"h":21.3,"v":0.65},{"h":22.9,"v":0.58},{"h":24.5,"v":0.53},{"h":26.1,"v":0.58},{"h":27.7,"v":0.53},{"h":29.3,"v":0.58},{"h":30.9,"v":0.60},{"h":32.5,"v":0.58},{"h":34.1,"v":0.62},{"h":35.7,"v":0.67},{"h":37.3,"v":0.65},{"h":38.9,"v":0.64},{"h":40.5,"v":0.65},{"h":42.1,"v":0.63},{"h":43.7,"v":0.65},{"h":45.3,"v":0.62},{"h":46.9,"v":0.64},{"h":48.5,"v":0.62},{"h":50.1,"v":0.67},{"h":51.7,"v":0.60},{"h":53.3,"v":0.58},{"h":54.9,"v":0.63},{"h":56.5,"v":0.56},{"h":58.1,"v":0.58},{"h":59.7,"v":0.53},{"h":61.3,"v":0.55},{"h":62.9,"v":0.51},{"h":64.5,"v":0.53},{"h":66.1,"v":0.51},{"h":67.7,"v":0.53},{"h":69.3,"v":0.49},{"h":70.9,"v":0.51},{"h":72.5,"v":0.47},{"h":74.1,"v":0.49},{"h":75.7,"v":0.51},{"h":77.3,"v":0.52},{"h":78.9,"v":0.49},{"h":80.5,"v":0.51},{"h":82.1,"v":0.44},{"h":83.7,"v":0.49},{"h":85.3,"v":0.51},{"h":86.9,"v":0.47},{"h":88.5,"v":0.51},{"h":90.1,"v":0.49},{"h":91.7,"v":0.51},{"h":93.3,"v":0.53},{"h":95.5,"v":0.49},{"h":97.1,"v":0.51},{"h":99.7,"v":0.53},{"h":102.4,"v":0.63},{"h":104.0,"v":0.86},{"h":105.1,"v":0.67},{"h":106.1,"v":0.77},{"h":107.7,"v":0.63},{"h":109.3,"v":0.67},{"h":110.9,"v":0.63},{"h":112.5,"v":0.67},{"h":114.1,"v":0.58},{"h":115.7,"v":0.60},{"h":117.3,"v":0.77},{"h":118.4,"v":0.60},{"h":120.0,"v":0.58},{"h":121.6,"v":0.63},{"h":123.2,"v":0.58},{"h":124.8,"v":0.53},{"h":126.4,"v":0.51},{"h":128.0,"v":0.49},{"h":129.6,"v":0.51},{"h":131.2,"v":0.49},{"h":132.8,"v":0.47},{"h":134.4,"v":0.51},{"h":136.0,"v":0.53},{"h":137.6,"v":0.56},{"h":139.2,"v":0.63},{"h":140.8,"v":0.67},{"h":142.4,"v":0.65},{"h":144.0,"v":0.72},{"h":145.6,"v":0.81},{"h":146.7,"v":0.77},{"h":147.7,"v":0.67},{"h":149.3,"v":0.63},{"h":150.9,"v":0.58},{"h":152.5,"v":0.63},{"h":154.1,"v":0.58},{"h":155.7,"v":0.63},{"h":157.3,"v":0.67},{"h":158.9,"v":0.77},{"h":160.0,"v":0.86},{"h":161.1,"v":1.05},{"h":162.1,"v":1.14},{"h":163.2,"v":1.05},{"h":164.3,"v":0.91},{"h":165.3,"v":0.86},{"h":166.9,"v":0.81},{"h":168.5,"v":0.86},{"h":170.1,"v":0.79},{"h":171.7,"v":0.81},{"h":173.3,"v":0.77},{"h":174.9,"v":0.79},{"h":176.5,"v":0.86},{"h":178.1,"v":0.81},{"h":179.7,"v":0.95},{"h":180.8,"v":1.23},{"h":181.6,"v":1.56},{"h":182.4,"v":1.23},{"h":183.2,"v":0.91},{"h":184.5,"v":0.91},{"h":186.1,"v":0.86},{"h":187.7,"v":0.88},{"h":189.3,"v":0.81},{"h":190.9,"v":0.77},{"h":192.5,"v":0.75},{"h":194.1,"v":0.77},{"h":195.7,"v":0.67},{"h":197.3,"v":0.75},{"h":198.9,"v":0.67},{"h":200.5,"v":0.63},{"h":202.1,"v":0.67},{"h":203.7,"v":0.60},{"h":205.3,"v":0.58},{"h":206.9,"v":0.63},{"h":208.5,"v":0.56},{"h":210.1,"v":0.60},{"h":211.7,"v":0.53},{"h":213.3,"v":0.58},{"h":214.9,"v":0.53},{"h":216.5,"v":0.56},{"h":218.1,"v":0.51},{"h":219.7,"v":0.49},{"h":220.8,"v":0.47},{"h":221.9,"v":0.58},{"h":222.9,"v":0.77},{"h":224.0,"v":0.72},{"h":225.1,"v":0.86},{"h":226.1,"v":0.81},{"h":227.2,"v":0.95},{"h":228.3,"v":1.05},{"h":229.3,"v":1.33},{"h":230.4,"v":1.52},{"h":231.5,"v":1.38},{"h":232.5,"v":1.42},{"h":233.6,"v":1.56},{"h":234.7,"v":1.70},{"h":235.7,"v":1.80},{"h":236.8,"v":1.52},{"h":237.3,"v":1.70},{"h":237.9,"v":1.89},{"h":238.4,"v":2.17},{"h":238.9,"v":3.20},{"h":239.5,"v":3.95},{"h":240.0,"v":2.92},{"h":240.5,"v":2.17},{"h":241.1,"v":1.98},{"h":242.1,"v":1.61},{"h":243.2,"v":1.42},{"h":244.3,"v":1.23},{"h":245.3,"v":1.14},{"h":246.4,"v":1.05},{"h":248.0,"v":1.00},{"h":249.6,"v":0.95},{"h":251.2,"v":0.94},{"h":252.8,"v":0.95},{"h":254.4,"v":0.91},{"h":256.0,"v":0.88},{"h":257.6,"v":0.94},{"h":259.2,"v":0.91},{"h":260.8,"v":0.88},{"h":262.4,"v":0.86},{"h":264.0,"v":0.88},{"h":265.6,"v":0.91},{"h":266.7,"v":1.05},{"h":267.2,"v":1.23},{"h":267.7,"v":0.95},{"h":269.3,"v":0.86},{"h":270.9,"v":0.88},{"h":272.5,"v":0.91},{"h":274.1,"v":0.94},{"h":275.7,"v":0.95},{"h":277.3,"v":1.00},{"h":278.9,"v":1.05},{"h":280.0,"v":1.19},{"h":281.1,"v":1.14},{"h":282.7,"v":1.05},{"h":284.3,"v":1.09},{"h":285.9,"v":0.95},{"h":287.5,"v":1.05},{"h":289.1,"v":0.95},{"h":291.2,"v":0.77},{"h":292.8,"v":0.75},{"h":294.4,"v":0.72},{"h":296.0,"v":0.69},{"h":297.6,"v":0.67},{"h":299.2,"v":0.67},{"h":300.8,"v":0.65},{"h":302.4,"v":0.67},{"h":304.0,"v":0.63},{"h":305.1,"v":1.05},{"h":305.6,"v":0.67},{"h":307.2,"v":0.63},{"h":308.8,"v":0.60},{"h":310.4,"v":0.62},{"h":312.0,"v":0.58},{"h":313.6,"v":0.56},{"h":315.2,"v":0.53},{"h":316.3,"v":0.67},{"h":317.3,"v":0.58},{"h":318.4,"v":0.63},{"h":320.0,"v":0.60},{"h":321.6,"v":0.58},{"h":323.2,"v":0.60},{"h":324.8,"v":0.58},{"h":326.4,"v":0.63},{"h":328.0,"v":0.67},{"h":329.6,"v":0.63},{"h":331.2,"v":0.77},{"h":332.8,"v":0.95},{"h":333.9,"v":1.05},{"h":334.9,"v":0.86},{"h":336.0,"v":0.72},{"h":337.6,"v":0.63},{"h":339.2,"v":0.60},{"h":340.8,"v":0.58},{"h":342.4,"v":0.56},{"h":344.0,"v":0.58},{"h":345.6,"v":0.53},{"h":347.2,"v":0.56},{"h":348.8,"v":0.53},{"h":350.4,"v":0.52},{"h":352.0,"v":0.51},{"h":353.6,"v":0.53},{"h":355.2,"v":0.51},{"h":356.8,"v":0.52},{"h":358.4,"v":0.49},{"h":360.0,"v":0.51},{"h":361.6,"v":0.49},{"h":363.2,"v":0.52},{"h":364.8,"v":0.49},{"h":366.4,"v":0.51},{"h":368.0,"v":0.53},{"h":369.6,"v":0.51},{"h":371.2,"v":0.49},{"h":372.8,"v":0.47},{"h":374.4,"v":0.49},{"h":376.0,"v":0.47},{"h":377.6,"v":0.44},{"h":379.2,"v":0.47},{"h":380.8,"v":0.44},{"h":382.4,"v":0.47},{"h":384.0,"v":0.45},{"h":385.6,"v":0.47},{"h":387.7,"v":0.49},{"h":390.4,"v":0.51},{"h":393.1,"v":0.52},{"h":395.7,"v":0.53},{"h":398.4,"v":0.56},{"h":401.1,"v":0.58},{"h":403.7,"v":0.60},{"h":406.4,"v":0.63},{"h":409.1,"v":0.64},{"h":411.7,"v":0.65},{"h":414.4,"v":0.65},{"h":417.1,"v":0.65},{"h":419.7,"v":0.64},{"h":421.3,"v":0.67},{"h":422.9,"v":0.62},{"h":424.5,"v":0.77},{"h":425.6,"v":0.67},{"h":427.2,"v":0.63},{"h":428.8,"v":0.60},{"h":430.4,"v":0.58},{"h":433.1,"v":0.56},{"h":435.7,"v":0.53},{"h":438.4,"v":0.49},{"h":441.1,"v":0.47},{"h":443.7,"v":0.44},{"h":445.3,"v":0.39},{"h":446.9,"v":0.43},{"h":449.1,"v":0.47},{"h":451.7,"v":0.49},{"h":454.4,"v":0.47},{"h":457.1,"v":0.49},{"h":459.7,"v":0.51},{"h":462.4,"v":0.49},{"h":465.1,"v":0.47},{"h":467.7,"v":0.51},{"h":470.4,"v":0.53},{"h":473.1,"v":0.51},{"h":475.7,"v":0.56},{"h":478.4,"v":0.53},{"h":481.1,"v":0.51},{"h":483.7,"v":0.52},{"h":486.4,"v":0.53},{"h":489.1,"v":0.54},{"h":490.7,"v":0.58},{"h":491.7,"v":0.81},{"h":492.8,"v":0.63},{"h":494.4,"v":0.56},{"h":497.1,"v":0.53},{"h":499.7,"v":0.52},{"h":502.4,"v":0.51},{"h":505.1,"v":0.49},{"h":507.7,"v":0.47},{"h":510.4,"v":0.44},{"h":513.1,"v":0.47},{"h":515.7,"v":0.51},{"h":517.3,"v":0.63},{"h":518.4,"v":0.53},{"h":520.0,"v":0.60},{"h":521.6,"v":0.58},{"h":523.7,"v":0.53},{"h":526.4,"v":0.51},{"h":529.1,"v":0.49},{"h":531.7,"v":0.47},{"h":534.4,"v":0.47},{"h":537.1,"v":0.44},{"h":539.7,"v":0.49},{"h":542.4,"v":0.47},{"h":545.1,"v":0.51},{"h":546.7,"v":0.56},{"h":548.3,"v":0.67},{"h":549.3,"v":0.63},{"h":550.4,"v":0.56}
]
},
"columns": 5,
"spacing": 0,
"bounds": "flush",
"align": "each",
"concat": [
{"width": 18, "height": 5, "view": {"fill": "#d81b2b"}, "data": {"values": []}, "mark": "point"},
{"width": 48, "height": 5, "view": {"fill": "#d81b2b"}, "data": {"values": []}, "mark": "point"},
{"width": 720, "height": 5, "view": {"fill": "#d81b2b"}, "data": {"values": []}, "mark": "point"},
{"width": 27, "height": 5, "view": {"fill": "#d81b2b"}, "data": {"values": []}, "mark": "point"},
{"width": 6, "height": 5, "view": {"fill": "#d81b2b"}, "data": {"values": []}, "mark": "point"},
{"width": 18, "height": 15, "view": {"fill": "#d81b2b"}, "data": {"values": []}, "mark": "point"},
{"width": 48, "height": 15, "data": {"values": []}, "mark": "point"},
{"width": 720, "height": 15, "data": {"values": []}, "mark": "point"},
{"width": 27, "height": 15, "data": {"values": []}, "mark": "point"},
{"width": 6, "height": 15, "view": {"fill": "#d81b2b"}, "data": {"values": []}, "mark": "point"},
{"width": 18, "height": 499, "view": {"fill": "#d81b2b"}, "data": {"values": []}, "mark": "point"},
{"width": 48, "height": 499, "data": {"values": []}, "mark": "point"},
{"width": 720, "height": 499,
 "layer": [
  {"data": {"name": "cdom"}, "mark": {"type": "line", "clip": true},
   "encoding": {
    "x": {"field": "h", "type": "quantitative", "scale": {"domain": [0, 576], "nice": false, "zero": false},
          "axis": {"orient": "bottom", "title": "date [AST]", "grid": false, "domain": true, "domainColor": "black", "domainWidth": 1, "zindex": 1,
                   "values": [0,12,24,36,48,60,72,84,96,108,120,132,144,156,168,180,192,204,216,228,240,252,264,276,288,300,312,324,336,348,360,372,384,396,408,420,432,444,456,468,480,492,504,516,528,540,552,564,576],
                   "labelExpr": "datum.value % 48 == 0 ? [timeFormat(time(datetime(2007,0,10)) + datum.value*3600000, '%H:%M'), timeFormat(time(datetime(2007,0,10)) + datum.value*3600000, '%b.%d'), timeFormat(time(datetime(2007,0,10)) + datum.value*3600000, '%Y')] : ''",
                   "tickSize": {"condition": {"test": "datum.value % 48 == 0", "value": -7}, "value": -4},
                   "tickColor": "black", "tickWidth": 1,
                   "labelFontSize": 12.5, "labelLineHeight": 17, "labelColor": "#111", "labelBaseline": "top",
                   "labelPadding": 16, "labelOverlap": false, "labelFlush": false, "labelBound": false,
                   "titleFontSize": 13, "titleFontWeight": "normal", "titleColor": "#111", "titlePadding": 9}},
    "y": {"field": "v", "type": "quantitative", "scale": {"domain": [0, 14], "nice": false},
          "axis": {"orient": "left", "title": null, "grid": false, "domain": true, "domainColor": "black", "domainWidth": 1, "zindex": 1,
                   "values": [0,2,4,6,8,10,12,14],
                   "tickSize": -6, "tickColor": "black", "tickWidth": 1, "labelPadding": 19, "labelFontSize": 13, "labelColor": "#111"}},
    "color": {"datum": "CDOM [QSDE]", "type": "nominal",
              "scale": {"domain": ["CDOM [QSDE]", "dissolved oxygen [ml/l]", "nitrate [micro M]", "turbidity [NTU]"],
                        "range": ["#e3261c", "#3aaa38", "#3b6cbc", "#8b3d96"]},
              "legend": {"orient": "none", "legendX": 742, "legendY": 24, "title": null, "padding": 0,
                         "symbolType": "M-4,0L4,0", "symbolSize": 100, "symbolStrokeWidth": 1.3, "symbolOffset": 0,
                         "labelAlign": "right", "labelOffset": -37, "labelFontSize": 13, "labelColor": "#111", "labelLimit": 0,
                         "rowPadding": 3.3}}
   }},
  {"data": {"name": "oxygen"}, "mark": {"type": "line", "clip": true},
   "encoding": {
    "x": {"field": "h", "type": "quantitative",
          "axis": {"orient": "top", "title": null, "labels": false, "grid": false, "domain": true, "domainColor": "black", "domainWidth": 1, "zindex": 1,
                   "values": [0,12,24,36,48,60,72,84,96,108,120,132,144,156,168,180,192,204,216,228,240,252,264,276,288,300,312,324,336,348,360,372,384,396,408,420,432,444,456,468,480,492,504,516,528,540,552,564,576],
                   "tickSize": {"condition": {"test": "datum.value % 48 == 0", "value": -7}, "value": -4}, "tickColor": "black", "tickWidth": 1}},
    "y": {"field": "v", "type": "quantitative",
          "axis": {"orient": "right", "title": null, "labels": false, "grid": false, "domain": true, "domainColor": "black", "domainWidth": 1, "zindex": 1,
                   "values": [0,2,4,6,8,10,12,14], "tickSize": -6, "tickColor": "black", "tickWidth": 1}},
    "color": {"datum": "dissolved oxygen [ml/l]", "type": "nominal"}
   }},
  {"data": {"name": "nitrate"}, "mark": {"type": "line", "clip": true},
   "encoding": {
    "x": {"field": "h", "type": "quantitative", "axis": null},
    "y": {"field": "v", "type": "quantitative", "axis": null},
    "color": {"datum": "nitrate [micro M]", "type": "nominal"}
   }},
  {"data": {"name": "turbidity"}, "mark": {"type": "line", "clip": true},
   "encoding": {
    "x": {"field": "h", "type": "quantitative", "axis": null},
    "y": {"field": "v", "type": "quantitative", "axis": null},
    "color": {"datum": "turbidity [NTU]", "type": "nominal"}
   }}
 ],
 "resolve": {"axis": {"x": "independent", "y": "independent"}}
},
{"width": 27, "height": 499, "data": {"values": []}, "mark": "point"},
{"width": 6, "height": 499, "view": {"fill": "#d81b2b"}, "data": {"values": []}, "mark": "point"},
{"width": 18, "height": 80, "view": {"fill": "#d81b2b"}, "data": {"values": []}, "mark": "point"},
{"width": 48, "height": 80, "data": {"values": []}, "mark": "point"},
{"width": 720, "height": 80, "data": {"values": []}, "mark": "point"},
{"width": 27, "height": 80, "data": {"values": []}, "mark": "point"},
{"width": 6, "height": 80, "view": {"fill": "#d81b2b"}, "data": {"values": []}, "mark": "point"}
]
}
